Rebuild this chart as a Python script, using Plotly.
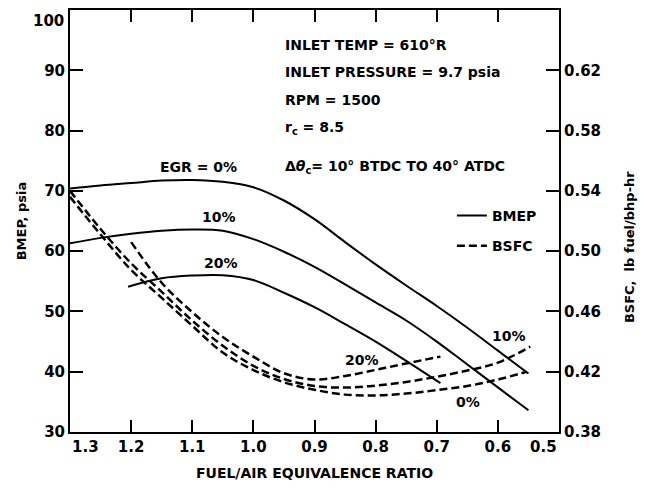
import plotly.graph_objects as go

# BMEP (psia) vs fuel/air equivalence ratio
bmep_0_phi = [1.30, 1.25, 1.20, 1.15, 1.10, 1.05, 1.00, 0.95, 0.90, 0.85, 0.80, 0.75, 0.70, 0.65, 0.60, 0.55]
bmep_0_val = [70.4, 70.9, 71.3, 71.7, 71.8, 71.5, 70.6, 68.4, 65.3, 61.5, 57.8, 54.3, 50.9, 47.3, 43.5, 39.7]

bmep_10_phi = [1.30, 1.25, 1.20, 1.15, 1.10, 1.05, 1.00, 0.95, 0.90, 0.85, 0.80, 0.75, 0.70, 0.65, 0.60, 0.55]
bmep_10_val = [61.3, 62.2, 62.9, 63.4, 63.6, 63.4, 62.0, 59.9, 57.4, 54.5, 51.5, 48.5, 45.0, 41.2, 37.4, 33.6]

bmep_20_phi = [1.205, 1.15, 1.10, 1.05, 1.00, 0.95, 0.90, 0.85, 0.80, 0.75, 0.694]
bmep_20_val = [54.1, 55.5, 55.95, 56.0, 55.2, 53.1, 50.7, 47.9, 45.0, 41.8, 38.1]

# BSFC (lb fuel/bhp-hr)
bsfc_0_phi = [1.30, 1.25, 1.20, 1.15, 1.10, 1.05, 1.00, 0.95, 0.90, 0.85, 0.80, 0.75, 0.70, 0.65, 0.60, 0.553]
bsfc_0_val = [0.536, 0.511, 0.4875, 0.469, 0.4505, 0.4327, 0.4211, 0.413, 0.408, 0.4048, 0.4043, 0.4055,
              0.4078, 0.4105, 0.4148, 0.420]

bsfc_10_phi = [1.30, 1.25, 1.20, 1.15, 1.10, 1.05, 1.00, 0.95, 0.90, 0.85, 0.80, 0.75, 0.70, 0.65, 0.60, 0.547]
bsfc_10_val = [0.540, 0.5147, 0.4919, 0.473, 0.4539, 0.4372, 0.4239, 0.4152, 0.4105, 0.4095, 0.4108, 0.4132,
               0.4167, 0.4208, 0.426, 0.4366]

bsfc_20_phi = [1.20, 1.15, 1.10, 1.05, 1.00, 0.95, 0.90, 0.85, 0.80, 0.75, 0.694]
bsfc_20_val = [0.506, 0.479, 0.4595, 0.443, 0.430, 0.419, 0.4148, 0.4172, 0.4212, 0.4255, 0.430]

x_ticks = [1.3, 1.2, 1.1, 1.0, 0.9, 0.8, 0.7, 0.6, 0.5]
x_ticktext = ['', '1.2', '1.1', '1.0', '0.9', '0.8', '0.7', '0.6', '']
bmep_ticks = [30, 40, 50, 60, 70, 80, 90, 100]
bmep_ticktext = ['30', '40', '50', '60', '70', '80', '90', '']
bsfc_ticks = [0.38, 0.42, 0.46, 0.50, 0.54, 0.58, 0.62]

FONT = 'DejaVu Sans'
solid = dict(color='black', width=2, shape='spline', smoothing=1)
dashed = dict(color='black', width=2.5, dash='8px,4px', shape='spline', smoothing=1)

fig = go.Figure()
for i, (px, py) in enumerate([(bmep_0_phi, bmep_0_val), (bmep_10_phi, bmep_10_val),
                              (bmep_20_phi, bmep_20_val)]):
    fig.add_trace(go.Scatter(x=px, y=py, mode='lines', line=solid, name='BMEP',
                             legendgroup='bmep', showlegend=(i == 0), yaxis='y'))
for i, (px, py) in enumerate([(bsfc_0_phi, bsfc_0_val), (bsfc_10_phi, bsfc_10_val),
                              (bsfc_20_phi, bsfc_20_val)]):
    fig.add_trace(go.Scatter(x=px, y=py, mode='lines', line=dashed, name='BSFC',
                             legendgroup='bsfc', showlegend=(i == 0), yaxis='y2'))

txt = dict(family=FONT, size=14, color='black', weight='bold')
notes = [
    (0.951, 94.2, 'INLET TEMP = 610°R', 'left'),
    (0.951, 89.7, 'INLET PRESSURE = 9.7 psia', 'left'),
    (0.951, 85.1, 'RPM = 1500', 'left'),
    (0.951, 80.4, 'r<sub>c</sub> = 8.5', 'left'),
    (0.951, 73.9, 'Δ<i>θ</i><sub>c</sub>= 10° BTDC TO 40° ATDC', 'left'),
    (1.0905, 73.9, 'EGR = 0%', 'center'),
    (1.056, 65.7, '10%', 'center'),
    (1.053, 58.0, '20%', 'center'),
    (0.822, 41.9, '20%', 'center'),
    (0.5815, 45.9, '10%', 'center'),
    (0.649, 35.0, '0%', 'center'),
]
for x, y, t, anc in notes:
    fig.add_annotation(x=x, y=y, xref='x', yref='y', text=t, showarrow=False,
                       xanchor=anc, yanchor='middle', font=txt)

tickfont = dict(family=FONT, size=15, color='black', weight='bold')
# end labels sit inside the corners in the original
fig.add_annotation(x=1.3, y=0, xref='x', yref='paper', text='1.3', showarrow=False,
                   xanchor='left', yanchor='top', yshift=-4, font=tickfont)
fig.add_annotation(x=0.5, y=0, xref='x', yref='paper', text='0.5', showarrow=False,
                   xanchor='right', yanchor='top', yshift=-4, font=tickfont)
fig.add_annotation(x=0, y=100, xref='paper', yref='y', text='100', showarrow=False,
                   xanchor='right', yanchor='top', xshift=-4, font=tickfont)
# right axis title sits lower than the axis centre in the original
fig.add_annotation(x=1.143, y=0.438, xref='paper', yref='paper', text='BSFC,  lb fuel/bhp-hr',
                   showarrow=False, textangle=-90, xanchor='center', yanchor='middle',
                   font=dict(family=FONT, size=13, color='black', weight='bold'))

axis_common = dict(showgrid=False, zeroline=False, showline=True, linecolor='black',
                   linewidth=2, ticks='inside', tickwidth=2, tickcolor='black',
                   tickfont=tickfont, automargin=False)

# the page body adds an 8px margin, so the figure is kept inside the window
fig.update_layout(
    width=638, height=473,
    margin=dict(l=62, r=87, t=2, b=49),
    paper_bgcolor='white', plot_bgcolor='white',
    font=dict(family=FONT, color='black'),
    xaxis=dict(axis_common, range=[1.3, 0.5], tickvals=x_ticks, ticktext=x_ticktext,
               ticklen=12, mirror='ticks',
               title=dict(text='FUEL/AIR EQUIVALENCE RATIO', standoff=15,
                          font=dict(family=FONT, size=14, weight='bold'))),
    yaxis=dict(axis_common, range=[30, 100], tickvals=bmep_ticks, ticktext=bmep_ticktext,
               ticklen=13,
               title=dict(text='BMEP, psia', standoff=15,
                          font=dict(family=FONT, size=13, weight='bold'))),
    yaxis2=dict(axis_common, range=[0.38, 0.66], tickvals=bsfc_ticks, tickformat='.2f',
                ticklen=13, overlaying='y', side='right'),
    legend=dict(x=0.781, y=0.55, xanchor='left', yanchor='top', bgcolor='rgba(0,0,0,0)',
                font=dict(family=FONT, size=14, weight='bold'), itemwidth=30,
                tracegroupgap=9),
)

fig.write_html('out.html')
